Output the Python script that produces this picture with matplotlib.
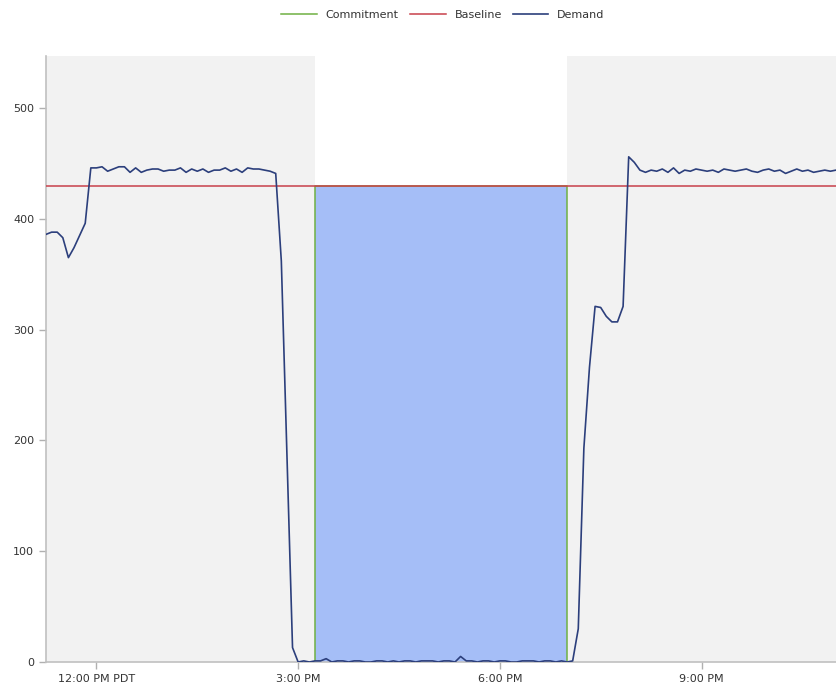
import numpy as np
import matplotlib
matplotlib.use("Agg")
import matplotlib.pyplot as plt

################################################################################
# Data (hours of day, 5 minute samples)
################################################################################
start_hour = 11.25
step_hour = 5.0 / 60.0

demand = [
    # 11:15 - 11:50
    386, 388, 388, 383, 365, 374, 385, 396,
    # 11:55 - 14:40
    446, 446, 447, 443, 445, 447, 447, 442, 446, 442, 444, 445, 445, 443,
    444, 444, 446, 442, 445, 443, 445, 442, 444, 444, 446, 443, 445, 442,
    446, 445, 445, 444, 443, 441,
    # 14:45 - 15:00
    362, 188, 13, 0,
    # 15:05 - 18:55
    1, 0, 1, 1, 3, 0, 1, 1, 0, 1, 1, 0, 0, 1, 1, 0, 1, 0, 1, 1, 0, 1, 1, 1,
    0, 1, 1, 0, 5, 1, 1, 0, 1, 1, 0, 1, 1, 0, 0, 1, 1, 1, 0, 1, 1, 0, 1,
    # 19:00 - 20:10
    0, 1, 30, 193, 266, 321, 320, 312, 307, 307, 321, 456, 451, 444, 442,
    # 20:15 - 23:00
    444, 443, 445, 442, 446, 441, 444, 443, 445, 444, 443, 444, 442, 445,
    444, 443, 444, 445, 443, 442, 444, 445, 443, 444, 441, 443, 445, 443,
    444, 442, 443, 444, 443, 444,
]

baseline = 430
event_start = 15.25
event_end = 19.0
commit_times = [event_start, event_start, event_end, event_end]
commit_values = [0, baseline, baseline, 0]

tick_hours = [12, 15, 18, 21]
tick_labels = ['12:00 PM PDT', '3:00 PM', '6:00 PM', '9:00 PM']
y_ticks = [0, 100, 200, 300, 400, 500]

times = start_hour + step_hour * np.arange(len(demand))
x_min, x_max = start_hour, 23.0

################################################################################
# Plot
################################################################################
fig = plt.figure(figsize=(8.36, 6.85), dpi=100)
ax = fig.add_axes([46 / 836, 23 / 685, 790 / 836, 606 / 685])

grey_bg = '#f2f2f2'
ax.axvspan(x_min, event_start, color=grey_bg, lw=0, zorder=0)
ax.axvspan(event_end, x_max, color=grey_bg, lw=0, zorder=0)

ax.fill_between(commit_times, 0, commit_values, color='#a5bef7', lw=0, zorder=1)
l_commit, = ax.plot(commit_times, commit_values, color='#6fb043', lw=1.1, zorder=2)
l_base = ax.axhline(baseline, color='#c8404a', lw=1.1, zorder=3)
l_demand, = ax.plot(times, demand, color='#2c3f7c', lw=1.2, zorder=4)

ax.set_xlim(x_min, x_max)
ax.set_ylim(0, 547)
ax.set_xticks(tick_hours)
ax.set_xticklabels(tick_labels)
ax.set_yticks(y_ticks)

for s in ['top', 'right']:
    ax.spines[s].set_visible(False)
for s in ['left', 'bottom']:
    ax.spines[s].set_color('#c0c0c0')
    ax.spines[s].set_linewidth(1.2)
ax.tick_params(axis='both', colors='#b0b0b0', labelcolor='#333333',
               labelsize=8, length=5, width=1)

fig.legend([l_commit, l_base, l_demand], ['Commitment', 'Baseline', 'Demand'],
           loc='upper center', bbox_to_anchor=(0.53, 1.0), ncol=3,
           frameon=False, fontsize=8, handlelength=3.2, columnspacing=1.0,
           handletextpad=0.8, labelcolor='#333333')

plt.savefig('out.png', dpi=100)
